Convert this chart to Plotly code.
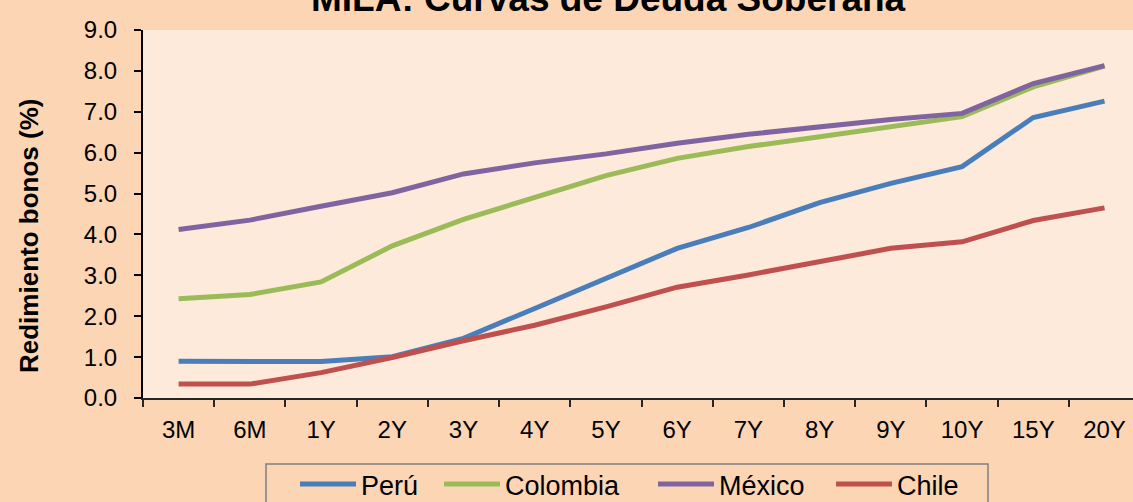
import plotly.graph_objects as go

categories = ["3M", "6M", "1Y", "2Y", "3Y", "4Y", "5Y", "6Y", "7Y", "8Y", "9Y", "10Y", "15Y", "20Y"]
peru = [0.90, 0.88, 0.89, 1.01, 1.46, 2.19, 2.93, 3.66, 4.17, 4.78, 5.25, 5.66, 6.86, 7.26]
colombia = [2.43, 2.53, 2.84, 3.72, 4.37, 4.92, 5.44, 5.86, 6.15, 6.39, 6.62, 6.88, 7.61, 8.12]
mexico = [4.12, 4.35, 4.69, 5.02, 5.48, 5.75, 5.97, 6.23, 6.45, 6.64, 6.81, 6.96, 7.69, 8.13]
chile = [0.34, 0.34, 0.62, 0.99, 1.40, 1.78, 2.23, 2.71, 3.01, 3.33, 3.66, 3.82, 4.34, 4.65]

series_names = ["Perú", "Colombia", "México", "Chile"]
series_values = [peru, colombia, mexico, chile]
series_colors = ["#4A7EBB", "#9BBB59", "#8064A2", "#C0504D"]
legend_widths = [73, 143, 107, 70]

PAPER = "#FCD5B5"
PLOT = "#FDEADA"
FONT = "Liberation Sans, Arial, sans-serif"

W, H = 1133, 502
L, R, T, B = 143, 0, 30, 104
PW, PH = W - L - R, H - T - B


def px_x(x):
    return (x - L) / PW


def px_y(y):
    return (H - B - y) / PH


fig = go.Figure()
for name, vals, color, lw in zip(series_names, series_values, series_colors, legend_widths):
    fig.add_trace(go.Scatter(
        x=categories, y=vals, name=name, mode="lines",
        line=dict(color=color, width=5),
        legendwidth=lw,
    ))

fig.update_layout(
    width=W, height=H,
    paper_bgcolor=PAPER, plot_bgcolor=PLOT,
    margin=dict(l=L, r=R, t=T, b=B, autoexpand=False),
    font=dict(family=FONT, color="black", size=24),
    showlegend=True,
    legend=dict(orientation="h", x=px_x(295), xanchor="left", y=px_y(460), yanchor="top",
                bgcolor="rgba(0,0,0,0)", borderwidth=0,
                font=dict(family="Liberation Sans Narrow, Arial Narrow, Liberation Sans, sans-serif", size=27),
                itemwidth=56, traceorder="normal"),
)

# chart title (partly above the top edge, as in the reference)
fig.add_annotation(
    text="<b>MILA: Curvas de Deuda Soberana</b>",
    xref="paper", yref="paper", x=px_x(608), y=px_y(-1),
    xanchor="center", yanchor="middle", showarrow=False,
    font=dict(size=37, family=FONT, color="black"),
)

# legend frame
fig.add_shape(type="rect", xref="paper", yref="paper",
              x0=px_x(266), x1=px_x(988), y0=px_y(464), y1=px_y(530),
              line=dict(color="#7F7F7F", width=1.5), fillcolor="rgba(0,0,0,0)", layer="below")

fig.update_xaxes(
    type="category", range=[-0.5, 13.4],
    showline=True, linecolor="#262626", linewidth=2,
    ticks="outside", tickson="boundaries", ticklen=7, tickcolor="#262626", tickwidth=1.5,
    showgrid=False, zeroline=False,
    tickfont=dict(size=24, family=FONT),
    ticklabelstandoff=9,
)
fig.update_yaxes(
    range=[0, 9], dtick=1, tick0=0, tickformat=".1f",
    showline=True, linecolor="black", linewidth=2,
    ticks="outside", ticklen=7, tickcolor="black", tickwidth=1.5,
    showgrid=False, zeroline=False,
    tickfont=dict(size=24, family=FONT),
    ticklabelstandoff=12,
)

fig.add_annotation(
    text="<b>Redimiento bonos (%)</b>", textangle=-90,
    xref="paper", yref="paper", x=px_x(29), y=px_y(236),
    xanchor="center", yanchor="middle", showarrow=False,
    font=dict(size=26, family=FONT, color="black"),
)

fig.write_html(
    "out.html",
    config={"displayModeBar": False},
    post_script="document.body.style.margin='0';document.body.style.background='" + PAPER + "';",
)
